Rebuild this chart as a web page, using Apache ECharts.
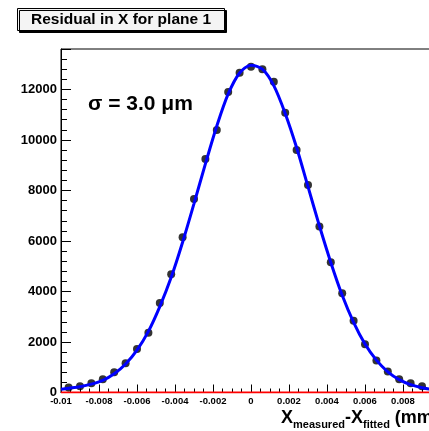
<!DOCTYPE html>
<html>
<head>
<meta charset="utf-8">
<script src="https://cdn.jsdelivr.net/npm/echarts@6/dist/echarts.min.js"></script>
<style>html,body{margin:0;padding:0;background:#fff;}#c{width:429px;height:431px;}</style>
</head>
<body>
<div id="c"></div>
<script>
// Bin centres (mm) and measured counts
const binX = [-0.0096,-0.0090,-0.0084,-0.0078,-0.0072,-0.0066,-0.0060,-0.0054,-0.0048,-0.0042,-0.0036,-0.0030,-0.0024,-0.0018,-0.0012,-0.0006,0.0000,0.0006,0.0012,0.0018,0.0024,0.0030,0.0036,0.0042,0.0048,0.0054,0.0060,0.0066,0.0072,0.0078,0.0084,0.0090,0.0096];
const counts = [200,250,370,520,800,1160,1720,2370,3540,4680,6150,7660,9240,10390,11900,12660,12900,12800,12300,11080,9600,8220,6570,5160,3930,2840,1910,1270,830,520,370,250,180];
// Fitted curve
const fitX = [-0.0100,-0.0096,-0.0090,-0.0084,-0.0078,-0.0072,-0.0066,-0.0060,-0.0054,-0.0048,-0.0042,-0.0036,-0.0030,-0.0024,-0.0018,-0.0012,-0.0006,0.0000,0.0006,0.0012,0.0018,0.0024,0.0030,0.0036,0.0042,0.0048,0.0054,0.0060,0.0066,0.0072,0.0078,0.0084,0.0090,0.0096,0.0100];
const fitY = [130,170,230,330,480,740,1130,1680,2420,3400,4560,5950,7480,9050,10550,11820,12650,12960,12800,12150,11050,9700,8150,6600,5150,3850,2780,1920,1280,820,510,310,190,120,100];
// Flat red line at zero
const baseX = [-0.01, 0.01];
const baseY = [0, 0];
const xTicks = {min:-0.01, max:0.01, step:0.002};
const yTicks = {min:0, max:13600, step:2000};

const chart = echarts.init(document.getElementById('c'), null, {renderer:'canvas'});
const F = "'Liberation Sans', Arial, Helvetica, sans-serif";
chart.setOption({
  animation:false,
  backgroundColor:'#ffffff',
  title:{
    text:'Residual in X for plane 1',
    left:17, top:8,
    padding:[3,14,3,14],
    backgroundColor:'#f4f4f4',
    borderColor:'#000', borderWidth:1,
    shadowColor:'#000', shadowOffsetX:2, shadowOffsetY:2, shadowBlur:0,
    textStyle:{fontFamily:F, fontSize:15.5, fontWeight:'bold', color:'#000', lineHeight:17}
  },
  grid:{left:61, width:380, top:49, bottom:38.5, outerBoundsMode:'none', containLabel:false, show:true, borderColor:'#000', borderWidth:1, backgroundColor:'transparent'},
  xAxis:{
    type:'value', min:xTicks.min, max:xTicks.max, interval:xTicks.step,
    axisLine:{show:true, onZero:false, lineStyle:{color:'#000', width:1}},
    axisTick:{show:true, inside:true, length:8, lineStyle:{color:'#000'}},
    minorTick:{show:true, splitNumber:4, length:4, lineStyle:{color:'#000'}},
    splitLine:{show:false},
    axisLabel:{color:'#000', fontFamily:F, fontSize:9.5, fontWeight:'bold', margin:4,
      formatter:v=>{ const r=Math.round(v*1000)/1000; return r===0?'0':String(r);} }
  },
  yAxis:{
    type:'value', min:yTicks.min, max:yTicks.max, interval:yTicks.step,
    axisLine:{show:true, onZero:false, lineStyle:{color:'#000', width:1}},
    axisTick:{show:true, inside:true, length:10, lineStyle:{color:'#000'}},
    minorTick:{show:true, splitNumber:5, length:6, lineStyle:{color:'#000'}},
    splitLine:{show:false},
    axisLabel:{color:'#000', fontFamily:F, fontSize:13, fontWeight:'bold', margin:4, showMaxLabel:false,
      formatter:v=>String(Math.round(v))}
  },
  series:[
    {type:'line', data:baseX.map((x,i)=>[x,baseY[i]]), showSymbol:false, lineStyle:{color:'#ff0000', width:2}, z:1, silent:true},
    {type:'scatter', data:binX.map((x,i)=>[x,counts[i]]), symbol:'circle', symbolSize:8, itemStyle:{color:'#000'}, z:2},
    {type:'line', data:fitX.map((x,i)=>[x,fitY[i]]), smooth:0.3, showSymbol:false, lineStyle:{color:'#0000ff', width:3}, z:3}
  ],
  graphic:[
    {type:'text', left:88, top:94, style:{text:'σ = 3.0 μm', font:"bold 21px 'Liberation Sans', Arial, sans-serif", fill:'#000'}},
    {type:'text', left:281, top:409, style:{
      text:'{a|X}{s|measured}{a|-X}{s|fitted}{a| (mm)}',
      rich:{
        a:{fontFamily:F, fontSize:18, fontWeight:'bold', fill:'#000', lineHeight:18, verticalAlign:'top'},
        s:{fontFamily:F, fontSize:11, fontWeight:'bold', fill:'#000', padding:[10,0,0,0], lineHeight:11, verticalAlign:'top'}
      }
    }}
  ]
});
</script>
</body>
</html>
